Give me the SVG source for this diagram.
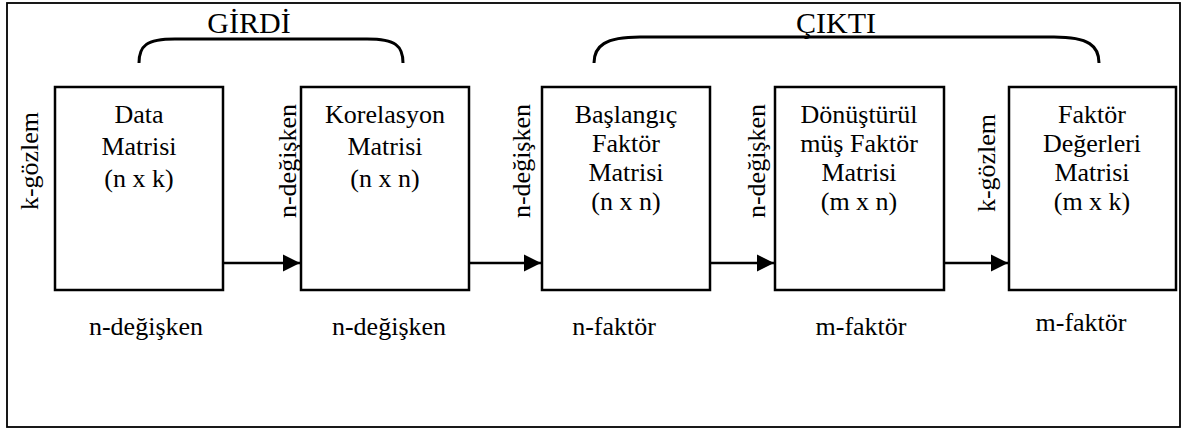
<svg xmlns="http://www.w3.org/2000/svg" width="1183" height="432" viewBox="0 0 1183 432">
<defs>
<style>
text{font-family:"Liberation Serif","Times New Roman","DejaVu Serif","Noto Serif",serif;fill:#000;text-anchor:middle}
.t{font-size:26px}
.h{font-size:30px}
.box{fill:#fff;stroke:#000;stroke-width:2.5}
.con{stroke:#000;stroke-width:2.5;fill:none}
.br{stroke:#000;stroke-width:3;fill:none}
</style>
<marker id="ah" viewBox="0 0 10 10" refX="10" refY="5" markerWidth="7" markerHeight="7" markerUnits="strokeWidth" orient="auto">
<path d="M0,0 L10,5 L0,10 z" fill="#000"/>
</marker>
</defs>
<rect x="7" y="3" width="1173" height="424" fill="#fff" stroke="#000" stroke-width="1.8"/>
<g id="girdi" font-family="Liberation Serif, serif">
<text class="h" x="249" y="33">GİRDİ</text>
<path class="br" d="M139,63 C139,46 146,39 175,39 L367,39 C396,39 403,46 403,63"/>
</g>
<g id="cikti" font-family="Liberation Serif, serif">
<text class="h" x="836" y="33">ÇIKTI</text>
<path class="br" d="M594,63 C594,46 605,37 640,37 L1054,37 C1089,37 1099,46 1099,63"/>
</g>
<g id="connectors">
<line class="con" x1="223" y1="263" x2="300" y2="263" marker-end="url(#ah)"/>
<line class="con" x1="469" y1="263" x2="541" y2="263" marker-end="url(#ah)"/>
<line class="con" x1="710" y1="263" x2="774" y2="263" marker-end="url(#ah)"/>
<line class="con" x1="944" y1="263" x2="1008" y2="263" marker-end="url(#ah)"/>
</g>
<g id="data">
<rect class="box" x="55" y="87" width="168" height="203"/>
<text class="t" x="139" y="123">Data</text>
<text class="t" x="139" y="155">Matrisi</text>
<text class="t" x="139" y="187">(n x k)</text>
<text class="t" transform="translate(38,161) rotate(-90)">k-gözlem</text>
<text class="t" x="146" y="335">n-değişken</text>
</g>
<g id="korelasyon">
<rect class="box" x="301" y="87" width="168" height="203"/>
<text class="t" x="385" y="123">Korelasyon</text>
<text class="t" x="385" y="155">Matrisi</text>
<text class="t" x="385" y="187">(n x n)</text>
<text class="t" transform="translate(296,161) rotate(-90)">n-değişken</text>
<text class="t" x="389" y="335">n-değişken</text>
</g>
<g id="baslangic">
<rect class="box" x="542" y="87" width="168" height="203"/>
<text class="t" x="626" y="123">Başlangıç</text>
<text class="t" x="626" y="152">Faktör</text>
<text class="t" x="626" y="181">Matrisi</text>
<text class="t" x="626" y="210">(n x n)</text>
<text class="t" transform="translate(530,161) rotate(-90)">n-değişken</text>
<text class="t" x="614" y="335">n-faktör</text>
</g>
<g id="donusturulmus">
<rect class="box" x="775" y="87" width="169" height="203"/>
<text class="t" x="859" y="123">Dönüştürül</text>
<text class="t" x="859" y="152">müş Faktör</text>
<text class="t" x="859" y="181">Matrisi</text>
<text class="t" x="859" y="210">(m x n)</text>
<text class="t" transform="translate(765,161) rotate(-90)">n-değişken</text>
<text class="t" x="861" y="335">m-faktör</text>
</g>
<g id="faktor-degerleri">
<rect class="box" x="1009" y="87" width="167" height="203"/>
<text class="t" x="1092" y="123">Faktör</text>
<text class="t" x="1092" y="152">Değerleri</text>
<text class="t" x="1092" y="181">Matrisi</text>
<text class="t" x="1092" y="210">(m x k)</text>
<text class="t" transform="translate(995,163) rotate(-90)">k-gözlem</text>
<text class="t" x="1081" y="331">m-faktör</text>
</g>
</svg>
